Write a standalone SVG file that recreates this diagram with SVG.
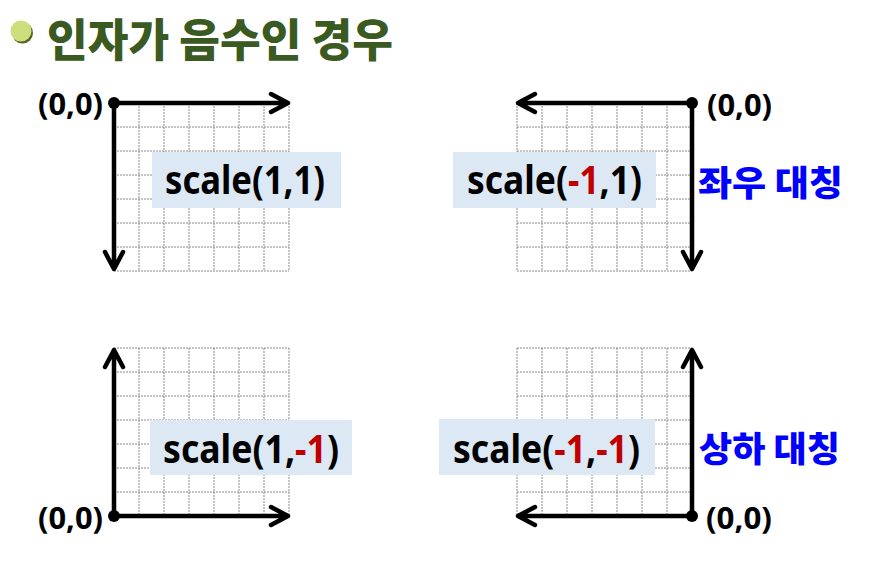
<svg xmlns="http://www.w3.org/2000/svg" width="871" height="577" viewBox="0 0 871 577">
<defs>
<style>
.gl{stroke:#8a8a8a;stroke-width:1;stroke-dasharray:2 1;}
.axis{stroke:#000;stroke-width:4.5;fill:none;stroke-linecap:round;stroke-linejoin:round;}
.box{fill:#dde8f5;}
.lbl{font-family:"Noto Sans","Noto Sans CJK KR",sans-serif;font-weight:700;font-size:39px;fill:#000;}
.neg{fill:#c00000;}
.org{font-family:"Noto Sans","Noto Sans CJK KR",sans-serif;font-weight:700;font-size:30px;fill:#000;}
.kr{font-family:"Noto Sans CJK KR",sans-serif;font-weight:900;font-size:35px;fill:#0000ff;}
.title{font-family:"Noto Sans CJK KR",sans-serif;font-weight:900;font-size:45px;fill:#3b5a22;}
</style>
<g id="gridcell" stroke="#8a8a8a" stroke-width="1" stroke-dasharray="2 1">
<line x1="0" y1="0" x2="175" y2="0"/><line x1="0" y1="24" x2="175" y2="24"/><line x1="0" y1="48" x2="175" y2="48"/><line x1="0" y1="72" x2="175" y2="72"/><line x1="0" y1="96" x2="175" y2="96"/><line x1="0" y1="120" x2="175" y2="120"/><line x1="0" y1="144" x2="175" y2="144"/><line x1="0" y1="168" x2="175" y2="168"/>
<line x1="0" y1="0" x2="0" y2="168"/><line x1="25" y1="0" x2="25" y2="168"/><line x1="50" y1="0" x2="50" y2="168"/><line x1="75" y1="0" x2="75" y2="168"/><line x1="100" y1="0" x2="100" y2="168"/><line x1="125" y1="0" x2="125" y2="168"/><line x1="150" y1="0" x2="150" y2="168"/><line x1="175" y1="0" x2="175" y2="168"/>
</g>
</defs>
<rect width="871" height="577" fill="#fff"/>

<g id="title">
<circle cx="22.5" cy="33" r="10.5" fill="#55651f"/>
<circle cx="21" cy="31" r="10.5" fill="#cddf7c"/>
<text class="title" x="47" y="57" textLength="346" lengthAdjust="spacingAndGlyphs">인자가 음수인 경우</text>
</g>

<g id="grids">
<use href="#gridcell" x="114" y="103"/>
<use href="#gridcell" x="517" y="103"/>
<use href="#gridcell" x="114" y="348"/>
<use href="#gridcell" x="517" y="348"/>
</g>

<g id="connectors">
<path class="axis" d="M114 103 H288 M271 94 L288 103 L271 112"/>
<path class="axis" d="M114 103 V269 M105 252 L114 269 L123 252"/>
<path class="axis" d="M692 103 H518 M535 94 L518 103 L535 112"/>
<path class="axis" d="M692 103 V269 M683 252 L692 269 L701 252"/>
<path class="axis" d="M114 516 H288 M271 507 L288 516 L271 525"/>
<path class="axis" d="M114 516 V350 M105 367 L114 350 L123 367"/>
<path class="axis" d="M692 516 H518 M535 507 L518 516 L535 525"/>
<path class="axis" d="M692 516 V350 M683 367 L692 350 L701 367"/>
<circle cx="114" cy="103" r="6"/>
<circle cx="692" cy="103" r="6"/>
<circle cx="114" cy="516" r="6"/>
<circle cx="692" cy="516" r="6"/>
</g>

<g id="label-tl">
<rect class="box" x="152" y="152" width="189" height="56"/>
<text class="lbl" x="165" y="194" textLength="160" lengthAdjust="spacingAndGlyphs">scale(1,1)</text>
<text class="org" x="38" y="115" textLength="65" lengthAdjust="spacingAndGlyphs">(0,0)</text>
</g>
<g id="label-tr">
<rect class="box" x="453" y="152" width="203" height="56"/>
<text class="lbl" x="467" y="194" textLength="175" lengthAdjust="spacingAndGlyphs">scale(<tspan class="neg">-1</tspan>,1)</text>
<text class="org" x="707" y="116" textLength="65" lengthAdjust="spacingAndGlyphs">(0,0)</text>
<text class="kr" x="698" y="196" textLength="145" lengthAdjust="spacingAndGlyphs">좌우 대칭</text>
</g>
<g id="label-bl">
<rect class="box" x="150" y="420" width="202" height="55"/>
<text class="lbl" x="163" y="463" textLength="176" lengthAdjust="spacingAndGlyphs">scale(1,<tspan class="neg">-1</tspan>)</text>
<text class="org" x="38" y="529" textLength="65" lengthAdjust="spacingAndGlyphs">(0,0)</text>
</g>
<g id="label-br">
<rect class="box" x="439" y="419" width="216" height="56"/>
<text class="lbl" x="453" y="463" textLength="187" lengthAdjust="spacingAndGlyphs">scale(<tspan class="neg">-1</tspan>,<tspan class="neg">-1</tspan>)</text>
<text class="org" x="706" y="529" textLength="66" lengthAdjust="spacingAndGlyphs">(0,0)</text>
<text class="kr" x="699" y="462" textLength="141" lengthAdjust="spacingAndGlyphs">상하 대칭</text>
</g>
</svg>
